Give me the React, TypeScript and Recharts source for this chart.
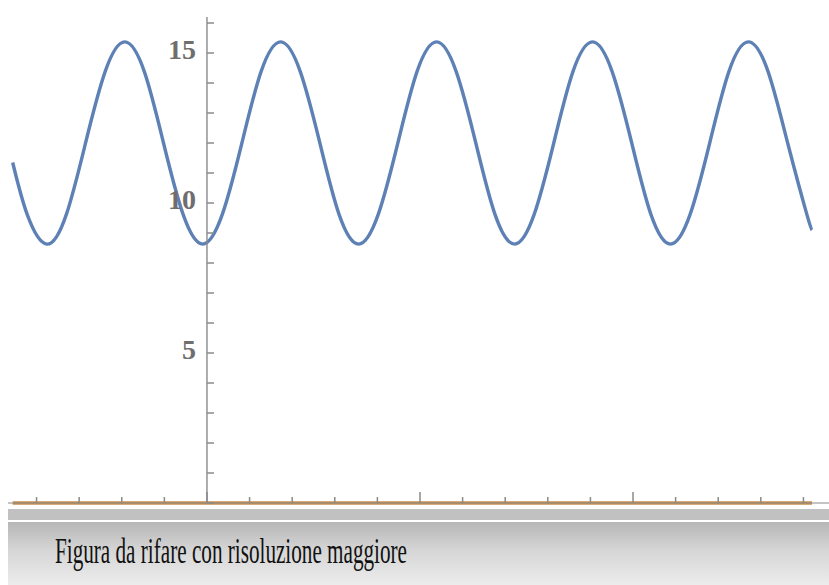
import React from 'react';
import { LineChart, Line, XAxis, YAxis } from 'recharts';

// Blue wave: x positions (minor x-tick units, 0 at the vertical axis) and values
const waveX = [
  -4.56, -4.22, -3.76, -3.3, -2.85, -2.39, -1.93, -1.47, -1.02, -0.56, -0.1,
  0.36, 0.82, 1.27, 1.73, 2.19, 2.65, 3.1, 3.56, 4.02, 4.48, 4.93, 5.39,
  5.85, 6.31, 6.76, 7.22, 7.68, 8.14, 8.59, 9.05, 9.51, 9.97, 10.42, 10.88,
  11.34, 11.8, 12.25, 12.71, 13.17, 13.63, 14.08, 14.2,
];
const waveY = [
  11.35, 9.62, 8.63, 9.62, 12.0, 14.38, 15.37, 14.38, 12.0, 9.62, 8.63,
  9.62, 12.0, 14.38, 15.37, 14.38, 12.0, 9.62, 8.63, 9.62, 12.0, 14.38, 15.37,
  14.38, 12.0, 9.62, 8.63, 9.62, 12.0, 14.38, 15.37, 14.38, 12.0, 9.62, 8.63,
  9.62, 12.0, 14.38, 15.37, 14.38, 12.0, 9.62, 9.1,
];
// Orange flat series at zero
const baseX = [-4.56, 14.2];
const baseY = [0, 0];

const yTicks = [0, 1, 2, 3, 4, 5, 6, 7, 8, 9, 10, 11, 12, 13, 14, 15, 16];
const yLabelTicks = [5, 10, 15];
const xTicks = [-4, -3, -2, -1, 0, 1, 2, 3, 4, 5, 6, 7, 8, 9, 10, 11, 12, 13, 14];
const xMajorTicks = [0, 5, 10];
const X_MIN = -4.67;
const X_MAX = 14.6;
const Y_MAX = 16.2;
const captionText = 'Figura da rifare con risoluzione maggiore';

const W = 829;
const H = 510;
const MARGIN = { top: 17, right: 0, bottom: 6, left: 8 };
const plotWidth = W - MARGIN.left - MARGIN.right;
// where x = 0 falls in the full-width chart, so the overlay's y-axis lines up with it
const yAxisPx = MARGIN.left + ((0 - X_MIN) / (X_MAX - X_MIN)) * plotWidth;
const Y_AXIS_W = 60;

const waveData = waveX.map((x, i) => ({ x, y: waveY[i] }));
const baseData = baseX.map((x, i) => ({ x, y: baseY[i] }));

const AXIS_GRAY = '#8a8a8a';

// x-axis tick marks point up into the plot; majors are longer
const XTickMark = (props: any) => {
  const { x, y, payload } = props;
  const len = xMajorTicks.includes(payload.value) ? 11 : 6;
  return <line x1={x} y1={y} x2={x} y2={y - len} stroke={AXIS_GRAY} strokeWidth={1.5} />;
};

const YLabel = (props: any) => {
  const { x, y, payload } = props;
  if (!yLabelTicks.includes(payload.value)) return <g />;
  return (
    <text
      x={x}
      y={y}
      dy={6}
      textAnchor="end"
      fill="#6e6e6e"
      fontSize={28}
      fontWeight="bold"
      fontFamily="'Liberation Serif', 'DejaVu Serif', serif"
    >
      {payload.value}
    </text>
  );
};

export default function App() {
  return (
    <div
      style={{
        position: 'absolute',
        left: 0,
        top: 0,
        width: W,
        height: 585,
        background: '#ffffff',
        overflow: 'hidden',
      }}
    >
      <div style={{ position: 'absolute', left: 0, top: 0 }}>
        <LineChart width={W} height={H} margin={MARGIN}>
          <XAxis
            type="number"
            dataKey="x"
            domain={[X_MIN, X_MAX]}
            ticks={xTicks}
            height={1}
            tickSize={0}
            tickMargin={0}
            tickLine={false}
            tick={<XTickMark />}
            interval={0}
            axisLine={{ stroke: AXIS_GRAY, strokeWidth: 1.2 }}
          />
          <YAxis hide type="number" domain={[0, Y_MAX]} />
          <Line
            data={baseData}
            dataKey="y"
            type="linear"
            stroke="#c98f4c"
            strokeWidth={3.5}
            dot={false}
            isAnimationActive={false}
          />
          <Line
            data={waveData}
            dataKey="y"
            type="natural"
            stroke="#5e81b5"
            strokeWidth={3.4}
            dot={false}
            isAnimationActive={false}
          />
        </LineChart>
      </div>
      <div style={{ position: 'absolute', left: 0, top: 0, pointerEvents: 'none' }}>
        <LineChart
          width={W}
          height={H}
          data={waveData}
          margin={{ top: MARGIN.top, right: 0, bottom: MARGIN.bottom + 1, left: yAxisPx - Y_AXIS_W }}
        >
          <XAxis hide type="number" dataKey="x" domain={[0, X_MAX]} allowDataOverflow />
          <YAxis
            type="number"
            domain={[0, Y_MAX]}
            allowDataOverflow
            ticks={yTicks}
            width={Y_AXIS_W}
            tickSize={-7}
            tickMargin={18}
            tick={<YLabel />}
            axisLine={{ stroke: AXIS_GRAY, strokeWidth: 1.4 }}
            tickLine={{ stroke: AXIS_GRAY, strokeWidth: 1.5 }}
            interval={0}
          />
        </LineChart>
      </div>
      <div
        style={{
          position: 'absolute',
          left: 8,
          top: 509,
          width: W - 8,
          height: 11,
          background: '#c1c1c1',
        }}
      />
      <div
        style={{
          position: 'absolute',
          left: 8,
          top: 522,
          width: W - 8,
          height: 63,
          background: 'linear-gradient(to bottom, #b6b6b6 0%, #d6d6d6 45%, #ececec 100%)',
        }}
      >
        <svg width={W - 8} height={63} style={{ display: 'block' }}>
          <text
            x={47}
            y={41}
            fontSize={35}
            fill="#111111"
            fontFamily="'Liberation Serif', 'DejaVu Serif', serif"
            textLength={352}
            lengthAdjust="spacingAndGlyphs"
          >
            {captionText}
          </text>
        </svg>
      </div>
    </div>
  );
}
